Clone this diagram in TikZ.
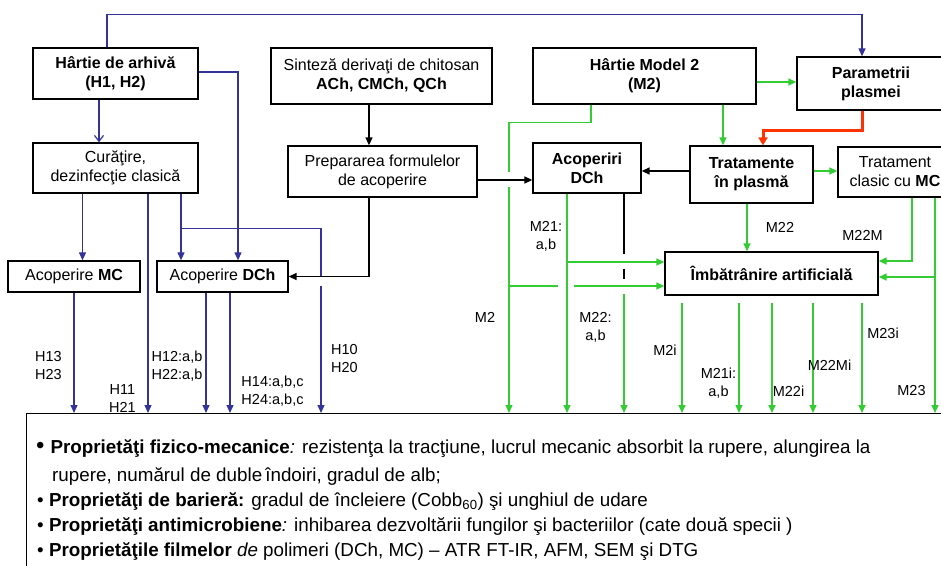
\documentclass[tikz,border=0pt]{standalone}
\usepackage{fontspec}
\setmainfont{Liberation Sans}
\usetikzlibrary{arrows.meta}

\definecolor{linkblue}{HTML}{333399}
\definecolor{linkgreen}{HTML}{33CC33}
\definecolor{linkred}{HTML}{FF3300}

\begin{document}
\begin{tikzpicture}[x=1pt, y=-1pt,
    box/.style={draw, line width=1.3pt, align=center, inner sep=0pt, font=\fontsize{16}{19}\selectfont},
    bbox/.style={box, font=\fontsize{16}{19}\selectfont\bfseries},
    lbl/.style={align=center, inner sep=0pt, font=\fontsize{14.5}{18}\selectfont},
    txt/.style={anchor=base west, inner sep=0pt, font=\fontsize{18.8}{22}\selectfont},
    bl/.style={draw=linkblue, line width=1.2pt},
    gr/.style={draw=linkgreen, line width=1.4pt},
    bk/.style={draw=black, line width=1.4pt},
    fa/.style={-{Triangle[length=8pt,width=7pt]}}]
    \useasboundingbox (0,0) rectangle (941,565);

    % boxes
    \node[bbox, minimum width=165pt, minimum height=51pt] (harh) at (115.5,73.5) {Hârtie de arhivă\\(H1, H2)};
    \node[box, minimum width=165pt, minimum height=50pt] (cur) at (115.5,168) {Curăţire,\\dezinfecţie clasică};
    \node[box, minimum width=132pt, minimum height=31pt] (amc) at (74,276.5) {Acoperire \textbf{MC}};
    \node[box, minimum width=131pt, minimum height=31pt] (adch) at (222.5,276.5) {Acoperire \textbf{DCh}};
    \node[box, minimum width=221pt, minimum height=56pt] (sint) at (381.5,76) {Sinteză derivaţi de chitosan\\\textbf{ACh, CMCh, QCh}};
    \node[box, minimum width=189pt, minimum height=51pt] (prep) at (382.5,171.5) {Prepararea formulelor\\de acoperire};
    \node[bbox, minimum width=223pt, minimum height=56pt] (hm2) at (644.5,76) {Hârtie Model 2\\(M2)};
    \node[bbox, minimum width=148pt, minimum height=53pt] (param) at (871,83.5) {Parametrii\\plasmei};
    \node[bbox, minimum width=123pt, minimum height=57pt] (trat) at (751.5,174.5) {Tratamente\\în plasmă};
    \node[bbox, minimum width=108pt, minimum height=50pt] (acdch) at (587,168) {Acoperiri\\DCh};
    \node[box, minimum width=114pt, minimum height=50pt] (tclas) at (895,172) {Tratament\\clasic cu \textbf{MC}};
    \node[bbox, minimum width=213pt, minimum height=43pt] (imb) at (771.5,273.5) {Îmbătrânire artificială};
    \node[draw, line width=1.3pt, anchor=north west, minimum width=940pt, minimum height=200pt] (res) at (26,413) {};

    % gaps where lines cross
    \coordinate (hgap1) at (321,277);
    \coordinate (hgap2) at (321,286);
    \coordinate (mgap1) at (509,172);
    \coordinate (mgap2) at (509,187);

    % blue: archive paper
    \draw[bl, fa] ([xshift=-8.5pt]harh.north) -- ++(0,-33) -| ([xshift=-9pt]param.north);
    \draw[bl, fa] ([yshift=1.5pt]harh.east) -| ([xshift=15.5pt]adch.north);
    \draw[bl, -{Straight Barb[length=6pt,width=9pt]}] ([xshift=-16.5pt]harh.south) -- ([xshift=-16.5pt]harh.south |- cur.north);
    \draw[bl, fa] ([xshift=-33pt]cur.south) -- ([xshift=-33pt]cur.south |- amc.north);
    \draw[bl, fa] ([xshift=32.5pt]cur.south) -- ([xshift=32.5pt]cur.south |- res.north);
    \draw[bl, fa] ([xshift=65.5pt]cur.south) -- ([xshift=65.5pt]cur.south |- adch.north);
    \draw[bl] ([xshift=65.5pt]cur.south) ++(0,35) -| (hgap1);
    \draw[bl, fa] (hgap2) -- (hgap2 |- res.north);
    \draw[bl, fa] (amc.south) -- (amc.south |- res.north);
    \draw[bl, fa] ([xshift=-16.5pt]adch.south) -- ([xshift=-16.5pt]adch.south |- res.north);
    \draw[bl, fa] ([xshift=7.5pt]adch.south) -- ([xshift=7.5pt]adch.south |- res.north);

    % black: coatings
    \draw[bk, fa] ([xshift=-12.5pt]sint.south) -- ([xshift=-12.5pt]sint.south |- prep.north);
    \draw[bk, fa] ([xshift=-13.5pt]prep.south) |- (adch.east);
    \draw[bk, fa] ([yshift=-8.5pt]prep.east) -- ([yshift=-8.5pt]prep.east -| acdch.west);
    \draw[bk, fa] ([yshift=3.5pt]trat.west) -- ([yshift=3.5pt]trat.west -| acdch.east);
    \draw[bk] ([xshift=37pt]acdch.south) -- ++(0,60);
    \draw[bk] ([xshift=37pt]acdch.south) ++(0,75) -- ++(0,10);

    % red: plasma parameters
    \draw[draw=linkred, line width=3pt, -{Triangle[length=8pt,width=9pt]}] ([xshift=-9pt]param.south) -- ++(0,20) -| ([xshift=11.5pt]trat.north);

    % green: model paper
    \draw[gr, fa] ([yshift=-6pt]hm2.east) -- ([yshift=-6pt]hm2.east -| param.west);
    \draw[gr, fa] ([xshift=78.5pt]hm2.south) -- ([xshift=78.5pt]hm2.south |- trat.north);
    \draw[gr] ([xshift=-53.5pt]hm2.south) -- ++(0,18) -| (mgap1);
    \draw[gr, fa] (mgap2) -- (mgap2 |- res.north);
    \draw[gr] ([yshift=-12.5pt]imb.west) ++(-156,0) -- ++(50,0);
    \draw[gr, fa] ([yshift=-12.5pt]imb.west) ++(-90,0) -- ([yshift=-12.5pt]imb.west);
    \draw[gr, fa] ([xshift=-20pt]acdch.south) -- ([xshift=-20pt]acdch.south |- res.north);
    \draw[gr, fa] ([yshift=11.5pt]imb.west) ++(-98,0) -- ([yshift=11.5pt]imb.west);
    \draw[gr, fa] ([xshift=37pt]acdch.south) ++(0,100) -- ([xshift=37pt]acdch.south |- res.north);
    \draw[gr, fa] ([xshift=-4.5pt]trat.south) -- ([xshift=-4.5pt]trat.south |- imb.north);
    \draw[gr, fa] ([yshift=3.5pt]trat.east) -- ([yshift=3.5pt]trat.east -| tclas.west);
    \draw[gr, fa] ([xshift=17pt]tclas.south) |- ([yshift=12.5pt]imb.east);
    \draw[gr, fa] ([xshift=40pt]tclas.south) -- ([xshift=40pt]tclas.south |- res.north);
    \draw[gr, fa] ([yshift=-3.5pt]imb.east) ++(57,0) -- ([yshift=-3.5pt]imb.east);
    \foreach \dx in {-89.5,-32.5,0.5,41.5,90.5}
        \draw[gr, fa] ([xshift=\dx pt, yshift=-7pt]imb.south) -- ([xshift=\dx pt]imb.south |- res.north);

    % sample labels
    \node[lbl] (h13) at (48.5,366) {H13\\H23};
    \node[lbl] (h11) at (122.5,399) {H11\\H21};
    \node[lbl] (h12) at (177,366.5) {H12:a,b\\H22:a,b};
    \node[lbl] (h14) at (272.5,391.5) {H14:a,b,c\\H24:a,b,c};
    \node[lbl] (h10) at (344.5,359) {H10\\H20};
    \node[lbl] (m2) at (485,317) {M2};
    \node[lbl] (m21) at (546,236) {M21:\\a,b};
    \node[lbl] (m22ab) at (595.5,327) {M22:\\a,b};
    \node[lbl] (m22) at (780,227) {M22};
    \node[lbl] (m22m) at (862.5,235) {M22M};
    \node[lbl] (m2i) at (665,350) {M2i};
    \node[lbl] (m21i) at (718.5,383) {M21i:\\a,b};
    \node[lbl] (m22i) at (788.5,391) {M22i};
    \node[lbl] (m22mi) at (829.5,365) {M22Mi};
    \node[lbl] (m23i) at (883,333) {M23i};
    \node[lbl] (m23) at (911.5,391) {M23};

    % properties list
    \node[txt] (l1) at (36,453) {{\fontsize{24}{24}\selectfont •}\hspace{6pt}\textbf{Proprietăţi fizico-mecanice}\textit{:} rezistenţa la tracţiune, lucrul mecanic absorbit la rupere, alungirea la};
    \node[txt] (l2) at (52,481) {rupere, numărul de duble\,îndoiri, gradul de alb;};
    \node[txt] (l3) at (37,506) {• \textbf{Proprietăţi de barieră:} gradul de încleiere (Cobb\textsubscript{60}) şi unghiul de udare};
    \node[txt] (l4) at (37,531) {• \textbf{Proprietăţi antimicrobiene}\textit{:} inhibarea dezvoltării fungilor şi bacteriilor (cate două specii )};
    \node[txt] (l5) at (37,556) {• \textbf{Proprietăţile filmelor} \textit{de} polimeri (DCh, MC) – ATR FT-IR, AFM, SEM şi DTG};
\end{tikzpicture}
\end{document}
